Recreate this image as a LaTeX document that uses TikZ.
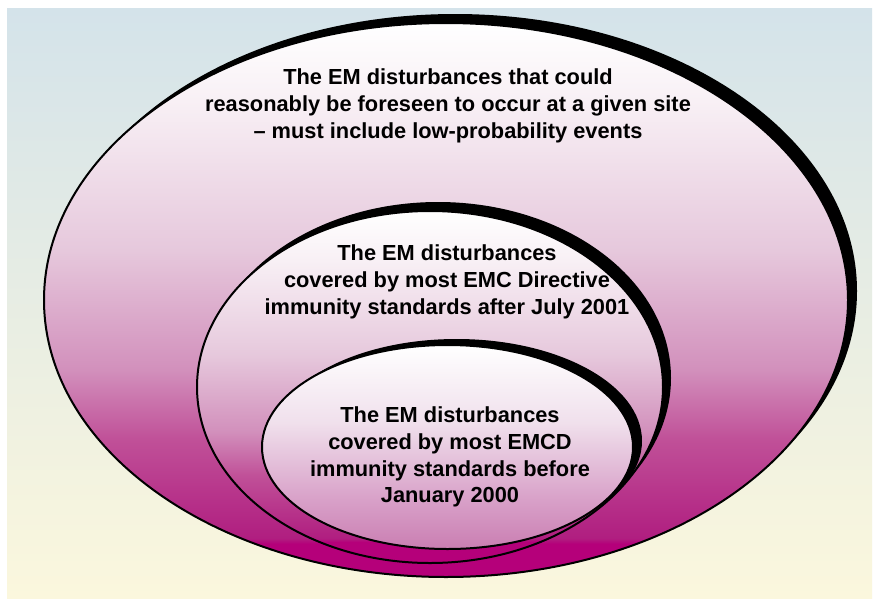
\documentclass[tikz,border=0pt]{standalone}
\usepackage{fontspec}
\setmainfont{Liberation Sans}
\definecolor{bgtop}{HTML}{D4E3EA}
\definecolor{bgmid}{HTML}{E9EFE6}
\definecolor{bgbot}{HTML}{FBF7DD}
\definecolor{mag}{HTML}{B5007A}
\definecolor{magb}{HTML}{B01E80}
\definecolor{pka}{HTML}{C05098}
\definecolor{pkb}{HTML}{D290BC}
\definecolor{pkc}{HTML}{E6C8DC}
\definecolor{pkd}{HTML}{F8F0F5}
\definecolor{ina}{HTML}{CA7EB2}
\definecolor{inb}{HTML}{D8A0C8}
\definecolor{inc}{HTML}{F0E0EC}
\pgfdeclareverticalshading{bigshade}{100bp}{color(0bp)=(mag); color(28bp)=(mag); color(28.5bp)=(magb); color(37.4bp)=(pka); color(43.7bp)=(pkb); color(54.5bp)=(pkc); color(68bp)=(pkd); color(75bp)=(white); color(100bp)=(white)}
\pgfdeclareverticalshading{innershade}{100bp}{color(0bp)=(ina); color(25bp)=(ina); color(37bp)=(inb); color(56bp)=(inc); color(75bp)=(white); color(100bp)=(white)}
\begin{document}
\begin{tikzpicture}[x=1pt,y=-1pt,
  shadowell/.style={fill=black},
  bigell/.style={shading=bigshade, draw=black, line width=2pt},
  smallell/.style={shading=innershade, draw=black, line width=2pt},
  lbl/.style={align=center, font=\fontsize{21.8}{26.8}\selectfont\bfseries, text=black}]
\useasboundingbox (0,0) rectangle (873,600);
\fill[white] (0,0) rectangle (873,600);
\shade[top color=bgtop, middle color=bgmid, bottom color=bgbot] (7,8) rectangle (872,598);
% outer
\fill[shadowell] (455,291) ellipse [x radius=402, y radius=277];
\path[bigell] (446,300) ellipse [x radius=402, y radius=277];
% middle
\fill[shadowell] (438,378) ellipse [x radius=233, y radius=176];
\path[bigell] (430,387) ellipse [x radius=233, y radius=176];
% inner
\fill[shadowell] (456.5,441) ellipse [x radius=185.5, y radius=102];
\path[smallell] (447.5,447) ellipse [x radius=185.5, y radius=102];
% labels
\node[lbl] (outer) at (448,106) {The EM disturbances that could\\reasonably be foreseen to occur at a given site\\-- must include low-probability events};
\node[lbl] (middle) at (447,282) {The EM disturbances\\covered by most EMC Directive\\immunity standards after July 2001};
\node[lbl] (inner) at (450,457) {The EM disturbances\\covered by most EMCD\\immunity standards before\\January 2000};
\end{tikzpicture}
\end{document}
